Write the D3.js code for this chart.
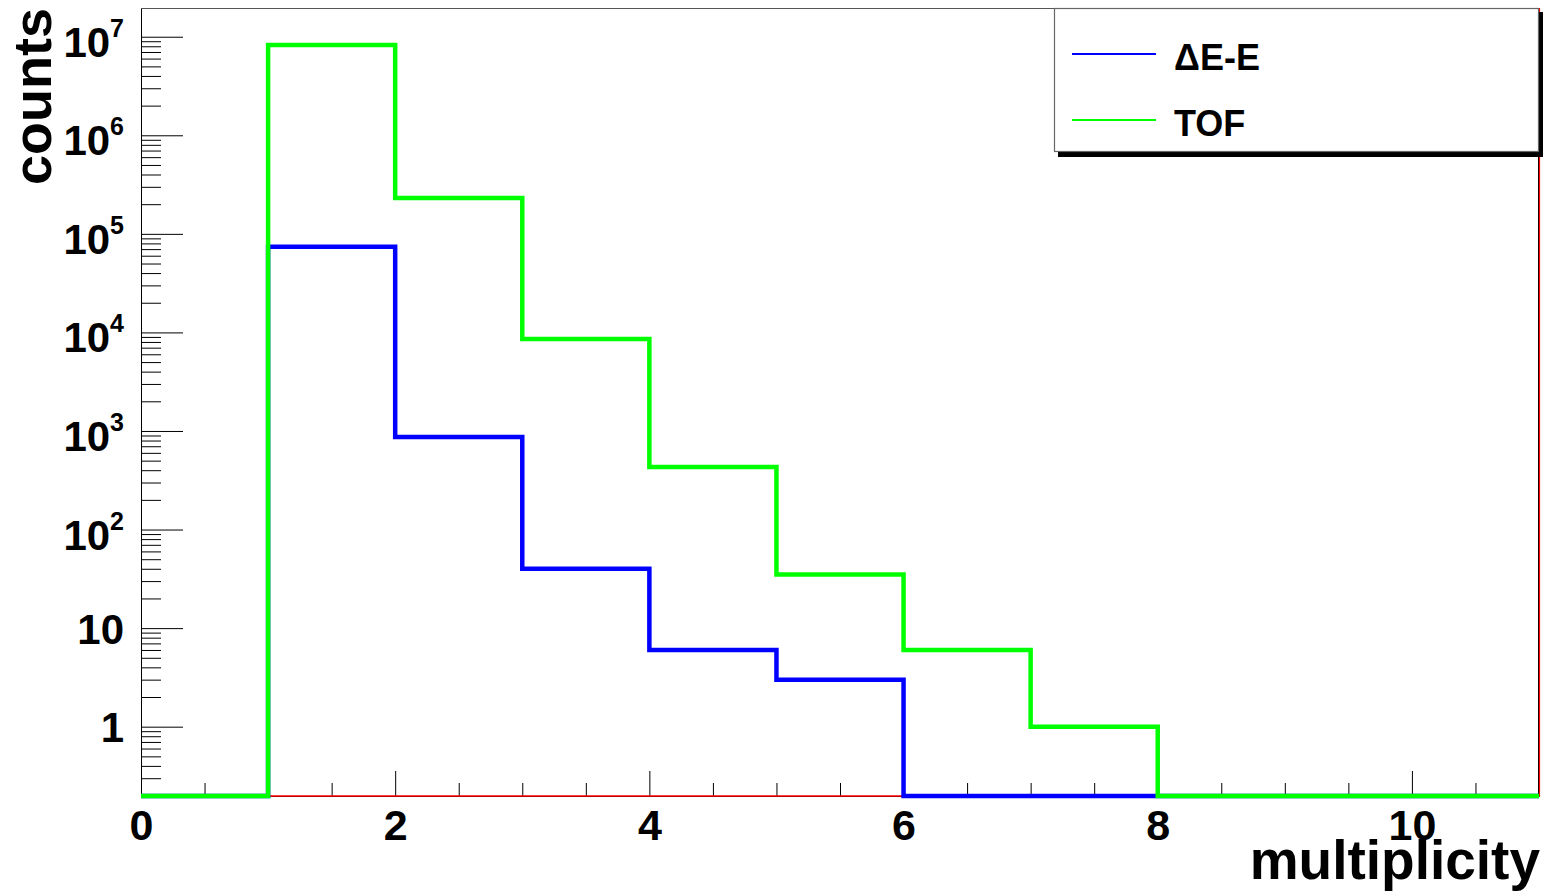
<!DOCTYPE html>
<html>
<head>
<meta charset="utf-8">
<script src="https://cdn.jsdelivr.net/npm/d3@7"></script>
<style>
  html, body { margin: 0; padding: 0; background: #fff; }
  svg { display: block; }
  text { font-family: "Liberation Sans", Arial, Helvetica, sans-serif; font-weight: bold; fill: #000; }
</style>
</head>
<body>
<svg id="chart" width="1548" height="891"></svg>
<script>
// ---- data ----
const binEdges = [0, 1, 2, 3, 4, 5, 6, 7, 8, 9, 10, 11];
const deltaEE = [0, 74100, 869, 40, 6, 3, 0, 0, 0, 0, 0];
const tof     = [0, 8240000, 231000, 8580, 431, 35, 6, 1, 0, 0, 0];
const zeroHist = [0, 0, 0, 0, 0, 0, 0, 0, 0, 0, 0];
const seriesNames = ["\u0394E-E", "TOF"];
const seriesColors = ["#0000ff", "#00ff00"];
const xMajorTicks = [0, 2, 4, 6, 8, 10];
const yDecadeTicks = [1, 10, 100, 1000, 10000, 100000, 1000000, 10000000];
const yLabelExp = [null, null, 2, 3, 4, 5, 6, 7];

// ---- layout ----
const svg = d3.select("#chart");
const L = 141, R = 1539, T = 8, B = 796;
const yMin = 0.198, yMax = 1.956e7;

const x = d3.scaleLinear().domain([0, 11]).range([L, R]);
const y = d3.scaleLog().domain([yMin, yMax]).range([B, T]);

// histogram path builder (step after)
function histPath(vals) {
  const pts = vals.map((v, i) => [binEdges[i], v]);
  pts.push([binEdges[binEdges.length - 1], vals[vals.length - 1]]);
  return d3.line()
    .x(d => x(d[0]))
    .y(d => y(Math.max(d[1], yMin)))
    .curve(d3.curveStepAfter)(pts);
}

// ---- axes ----
const xMinor = d3.range(0, 11.001, 0.5).filter(v => !xMajorTicks.includes(v));
const gx = svg.append("g").attr("transform", `translate(0,${B})`);
gx.call(d3.axisBottom(x).tickValues(xMinor).tickSize(-13).tickFormat("").tickSizeOuter(0));
const gx2 = svg.append("g").attr("transform", `translate(0,${B})`);
gx2.call(d3.axisBottom(x).tickValues(xMajorTicks).tickSize(-25).tickSizeOuter(0).tickPadding(0));
gx2.selectAll("text")
  .attr("dy", null).attr("y", 44)
  .style("font-size", "43px").style("font-family", "'Liberation Sans', Arial, sans-serif").style("font-weight", "bold");
[gx, gx2].forEach(g => {
  g.selectAll("line").attr("stroke", "#000").attr("stroke-width", 1);
  g.select(".domain").attr("stroke", "#000");
});

// y minor ticks
const yMinor = [];
for (let e = -1; e <= 7; e++) {
  for (let m = 2; m <= 9; m++) {
    const v = m * Math.pow(10, e);
    if (v >= yMin && v <= yMax) yMinor.push(v);
  }
}
const gy = svg.append("g").attr("transform", `translate(${L},0)`);
gy.call(d3.axisLeft(y).tickValues(yMinor).tickSize(-20).tickFormat("").tickSizeOuter(0));
const gy2 = svg.append("g").attr("transform", `translate(${L},0)`);
gy2.call(d3.axisLeft(y).tickValues(yDecadeTicks).tickSize(-42).tickSizeOuter(0).tickFormat(""));
[gy, gy2].forEach(g => {
  g.selectAll("line").attr("stroke", "#000").attr("stroke-width", 1);
  g.select(".domain").attr("stroke", "#000");
});

// y labels
const ylab = svg.append("g");
yDecadeTicks.forEach((v, i) => {
  const exp = yLabelExp[i];
  const t = ylab.append("text")
    .attr("text-anchor", "end")
    .attr("x", 124)
    .attr("y", y(v) + (exp === null ? 15.5 : 20))
    .style("font-size", "42px");
  if (exp === null) {
    t.text(String(v));
  } else {
    t.append("tspan").text("10");
    t.append("tspan").attr("dy", -20).style("font-size", "25px").text(String(exp));
  }
});

// frame top & right
svg.append("line").attr("x1", L).attr("x2", R).attr("y1", T + 0.5).attr("y2", T + 0.5)
  .attr("stroke", "#555").attr("stroke-width", 1.2);
svg.append("line").attr("x1", R - 0.5).attr("x2", R - 0.5).attr("y1", T).attr("y2", B)
  .attr("stroke", "#000").attr("stroke-width", 1);

// ---- histograms ----
svg.append("path").attr("d", histPath(zeroHist))
  .attr("fill", "none").attr("stroke", "#ff0000").attr("stroke-width", 1.5);
svg.append("line")
  .attr("x1", x(11) + 0.5).attr("x2", x(11) + 0.5)
  .attr("y1", y(yMin)).attr("y2", y(yMax))
  .attr("stroke", "#ff0000").attr("stroke-width", 1.2);

[deltaEE, tof].forEach((vals, i) => {
  svg.append("path").attr("d", histPath(vals))
    .attr("fill", "none").attr("stroke", seriesColors[i])
    .attr("stroke-width", 4.5).attr("stroke-linejoin", "miter");
});

// ---- axis titles ----
svg.append("text").attr("text-anchor", "end")
  .attr("x", 1540).attr("y", 879)
  .style("font-size", "55px").text("multiplicity");
svg.append("text").attr("text-anchor", "end")
  .attr("transform", "translate(51,8) rotate(-90)")
  .style("font-size", "54px").text("counts");

// ---- legend ----
const lg = svg.append("g");
lg.append("rect").attr("x", 1058).attr("y", 12).attr("width", 485).attr("height", 145).attr("fill", "#000");
lg.append("rect").attr("x", 1054.5).attr("y", 8.5).attr("width", 484).attr("height", 143)
  .attr("fill", "#fff").attr("stroke", "#666").attr("stroke-width", 1.2);
const legY = [54, 120];
const legTextY = [70, 136];
seriesNames.forEach((name, i) => {
  lg.append("line").attr("x1", 1072).attr("x2", 1156).attr("y1", legY[i]).attr("y2", legY[i])
    .attr("stroke", seriesColors[i]).attr("stroke-width", 2);
  lg.append("text").attr("x", 1174).attr("y", legTextY[i])
    .style("font-size", "36px").text(name);
});
</script>
</body>
</html>
